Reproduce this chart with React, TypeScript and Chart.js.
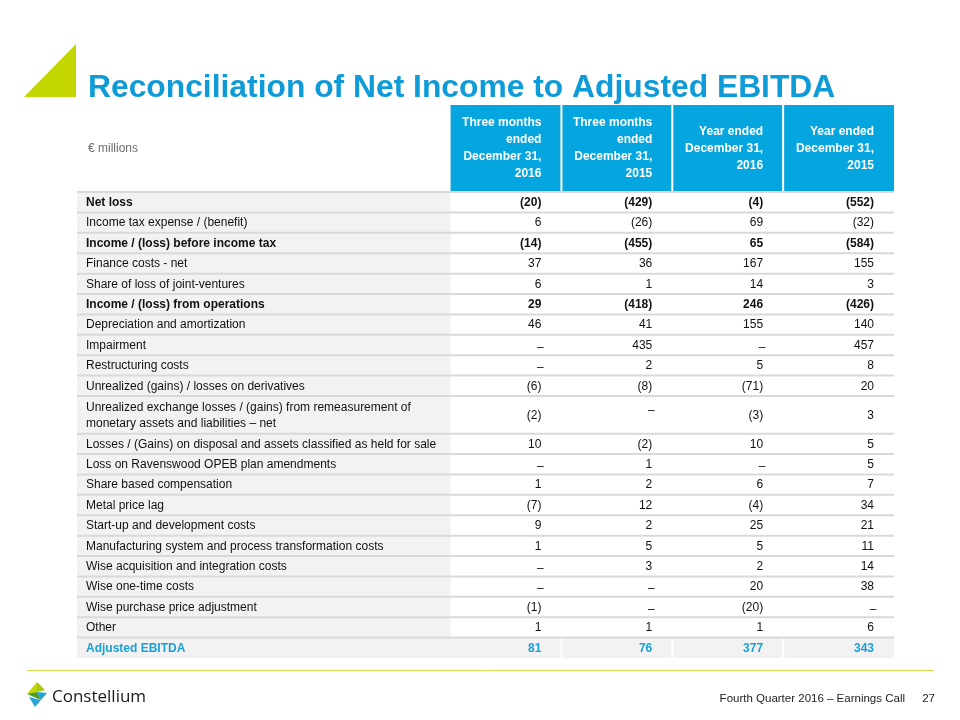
import React, { useEffect, useRef } from "react";
import { Chart, registerables } from "chart.js";

Chart.register(...registerables);

// ---------------- data ----------------
const TITLE = "Reconciliation of Net Income to Adjusted EBITDA";
const UNIT_LABEL = "€ millions";

const COLUMN_HEADERS: string[][] = [
  ["Three months", "ended", "December 31,", "2016"],
  ["Three months", "ended", "December 31,", "2015"],
  ["Year ended", "December 31,", "2016"],
  ["Year ended", "December 31,", "2015"],
];

const ROW_LABELS: string[] = [
  "Net loss",
  "Income tax expense / (benefit)",
  "Income / (loss) before income tax",
  "Finance costs - net",
  "Share of loss of joint-ventures",
  "Income / (loss) from operations",
  "Depreciation and amortization",
  "Impairment",
  "Restructuring costs",
  "Unrealized (gains) / losses on derivatives",
  "Unrealized exchange losses / (gains) from remeasurement of\nmonetary assets and liabilities – net",
  "Losses / (Gains) on disposal and assets classified as held for sale",
  "Loss on Ravenswood OPEB plan amendments",
  "Share based compensation",
  "Metal price lag",
  "Start-up and development costs",
  "Manufacturing system and process transformation costs",
  "Wise acquisition and integration costs",
  "Wise one-time costs",
  "Wise purchase price adjustment",
  "Other",
  "Adjusted EBITDA",
];

const BOLD_ROWS: string[] = [
  "Net loss",
  "Income / (loss) before income tax",
  "Income / (loss) from operations",
  "Adjusted EBITDA",
];
const TOTAL_ROW = "Adjusted EBITDA";

// null = "–"
const Q4_2016: (number | null)[] = [-20, 6, -14, 37, 6, 29, 46, null, null, -6, -2, 10, null, 1, -7, 9, 1, null, null, -1, 1, 81];
const Q4_2015: (number | null)[] = [-429, -26, -455, 36, 1, -418, 41, 435, 2, -8, null, -2, 1, 2, 12, 2, 5, 3, null, null, 1, 76];
const FY_2016: (number | null)[] = [-4, 69, 65, 167, 14, 246, 155, null, 5, -71, -3, 10, null, 6, -4, 25, 5, 2, 20, -20, 1, 377];
const FY_2015: (number | null)[] = [-552, -32, -584, 155, 3, -426, 140, 457, 8, 20, 3, 5, 5, 7, 34, 21, 11, 14, 38, null, 6, 343];
const SERIES = [Q4_2016, Q4_2015, FY_2016, FY_2015];

const FOOTER_TEXT = "Fourth Quarter 2016 – Earnings Call";
const PAGE_NUMBER = "27";
const BRAND = "Constellium";

// ---------------- layout / style ----------------
const LABEL_COL_UNITS = 3.37; // label column width, in value-column units
const HEADER_UNITS = 4.27; // header height, in row units
const ROW_SPANS = ROW_LABELS.map((l) => (l.includes("\n") ? 1.85 : 1));
const TOTAL_UNITS = HEADER_UNITS + ROW_SPANS.reduce((a, b) => a + b, 0);

const FONT = '"Liberation Sans", Arial, Helvetica, sans-serif';
const BLUE_HEADER = "#05a5df";
const BLUE_TITLE = "#0e9bd7";
const BLUE_TOTAL = "#1a9fd6";
const LIME = "#c4d600";
const GREY_BG = "#f2f2f2";
const LINE = "#d9d9d9";
const TEXT = "#111111";

function fmt(v: number | null): string {
  if (v === null) return "–";
  return v < 0 ? `(${Math.abs(v)})` : String(v);
}

const tablePlugin = {
  id: "tablePlugin",
  beforeDraw(chart: any) {
    const { ctx } = chart;
    ctx.save();
    ctx.fillStyle = "#ffffff";
    ctx.fillRect(0, 0, chart.width, chart.height);
    ctx.restore();
  },
  afterDraw(chart: any) {
    const { ctx } = chart;
    const xs = chart.scales.x;
    const ys = chart.scales.y;
    const px = (v: number) => xs.getPixelForValue(v);
    const py = (v: number) => ys.getPixelForValue(v);
    ctx.save();

    // ---- decoration: triangle + title
    ctx.fillStyle = LIME;
    ctx.beginPath();
    ctx.moveTo(24, 97);
    ctx.lineTo(76, 97);
    ctx.lineTo(76, 44);
    ctx.closePath();
    ctx.fill();

    ctx.fillStyle = BLUE_TITLE;
    ctx.font = `bold 31.8px ${FONT}`;
    ctx.textAlign = "left";
    ctx.textBaseline = "alphabetic";
    ctx.fillText(TITLE, 88, 97);

    const left = px(-LABEL_COL_UNITS);
    const right = px(SERIES.length);
    const headTop = py(0);
    const headBot = py(HEADER_UNITS);

    // ---- header
    ctx.fillStyle = BLUE_HEADER;
    ctx.fillRect(px(0), headTop, right - px(0), headBot - headTop);
    ctx.fillStyle = "#ffffff";
    for (let j = 1; j < SERIES.length; j++) {
      ctx.fillRect(px(j) - 1, headTop, 2, headBot - headTop);
    }
    const headMid = (headTop + headBot) / 2;
    ctx.font = `12px ${FONT}`;
    ctx.fillStyle = "#6f6f6f";
    ctx.textAlign = "left";
    ctx.textBaseline = "middle";
    ctx.fillText(UNIT_LABEL, left + 11, headMid);

    ctx.font = `bold 12px ${FONT}`;
    ctx.fillStyle = "#ffffff";
    ctx.textAlign = "right";
    const lh = 17;
    COLUMN_HEADERS.forEach((lines, j) => {
      const x = px(j + 1) - 20;
      const y0 = headMid - ((lines.length - 1) * lh) / 2;
      lines.forEach((t, k) => ctx.fillText(t, x, y0 + k * lh));
    });

    // ---- rows
    let cursor = HEADER_UNITS;
    const tops: number[] = [];
    ROW_LABELS.forEach((label, i) => {
      const t = py(cursor);
      const b = py(cursor + ROW_SPANS[i]);
      tops.push(t);
      const isTotal = label === TOTAL_ROW;
      ctx.fillStyle = GREY_BG;
      if (isTotal) {
        ctx.fillRect(left, t, right - left, b - t);
        ctx.fillStyle = "#ffffff";
        for (let j = 1; j < SERIES.length; j++) ctx.fillRect(px(j) - 1, t, 2, b - t);
      } else {
        ctx.fillRect(left, t, px(0) - left, b - t);
      }
      cursor += ROW_SPANS[i];
    });

    // row lines
    ctx.strokeStyle = LINE;
    ctx.lineWidth = 2;
    tops.forEach((t) => {
      ctx.beginPath();
      ctx.moveTo(left, t);
      ctx.lineTo(right, t);
      ctx.stroke();
    });

    // texts
    cursor = HEADER_UNITS;
    ROW_LABELS.forEach((label, i) => {
      const t = py(cursor);
      const b = py(cursor + ROW_SPANS[i]);
      const mid = (t + b) / 2 + 0.5;
      const bold = BOLD_ROWS.includes(label);
      const isTotal = label === TOTAL_ROW;
      const color = isTotal ? BLUE_TOTAL : TEXT;
      ctx.font = `${bold ? "bold " : ""}12px ${FONT}`;
      ctx.fillStyle = color;
      ctx.textBaseline = "middle";
      ctx.textAlign = "left";
      const lines = label.split("\n");
      const l0 = mid - ((lines.length - 1) * 16) / 2;
      lines.forEach((ln, k) => ctx.fillText(ln, left + 9, l0 + k * 16));

      SERIES.forEach((ser, j) => {
        const v = ser[i];
        const xr = px(j + 1) - 20;
        if (v === null) {
          ctx.textAlign = "center";
          ctx.font = `12px ${FONT}`;
          ctx.fillText("–", xr - 1, lines.length > 1 ? mid - 5 : mid + 2);
          ctx.font = `${bold ? "bold " : ""}12px ${FONT}`;
        } else {
          ctx.textAlign = "right";
          ctx.fillText(fmt(v), xr, mid);
        }
      });
      cursor += ROW_SPANS[i];
    });

    // ---- footer
    ctx.strokeStyle = "#d2dc45";
    ctx.lineWidth = 1;
    ctx.beginPath();
    ctx.moveTo(27, 670.5);
    ctx.lineTo(934, 670.5);
    ctx.stroke();

    // logo mark
    const poly = (pts: number[][], c: string) => {
      ctx.fillStyle = c;
      ctx.beginPath();
      ctx.moveTo(pts[0][0], pts[0][1]);
      for (let k = 1; k < pts.length; k++) ctx.lineTo(pts[k][0], pts[k][1]);
      ctx.closePath();
      ctx.fill();
    };
    poly([[37, 682], [27, 694], [37, 692]], "#c4d600");
    poly([[37, 682], [45, 690], [37, 692]], "#a9c80f");
    poly([[37, 692], [47, 693], [41, 700]], "#1ea5dc");
    poly([[27, 694], [37, 692], [41, 700]], "#4f9a2a");
    poly([[29, 697], [41, 700], [35, 707]], "#2aa6d9");

    ctx.fillStyle = "#1a1a1a";
    ctx.font = `17px "Open Sans", sans-serif`;
    ctx.textAlign = "left";
    ctx.textBaseline = "alphabetic";
    ctx.fillText(BRAND, 52, 702);

    ctx.fillStyle = "#222222";
    ctx.font = `11.5px ${FONT}`;
    ctx.textAlign = "right";
    ctx.fillText(FOOTER_TEXT, 905, 702);
    ctx.fillText(PAGE_NUMBER, 935, 702);

    ctx.restore();
  },
};

export default function App() {
  const ref = useRef<HTMLCanvasElement>(null);
  useEffect(() => {
    document.body.style.margin = "0";
    const chart = new Chart(ref.current as HTMLCanvasElement, {
      type: "scatter",
      data: { datasets: [] },
      options: {
        animation: false,
        responsive: false,
        devicePixelRatio: 1,
        events: [],
        layout: { padding: { left: 77, right: 66, top: 105, bottom: 62 } },
        scales: {
          x: { type: "linear", min: -LABEL_COL_UNITS, max: SERIES.length, display: false },
          y: { type: "linear", min: 0, max: TOTAL_UNITS, reverse: true, display: false },
        },
        plugins: { legend: { display: false }, tooltip: { enabled: false }, title: { display: false } },
      },
      plugins: [tablePlugin as any],
    });
    return () => chart.destroy();
  }, []);
  return (
    <div style={{ width: 960, height: 720, position: "relative" }}>
      <canvas ref={ref} width={960} height={720} style={{ display: "block", width: 960, height: 720 }} />
    </div>
  );
}
